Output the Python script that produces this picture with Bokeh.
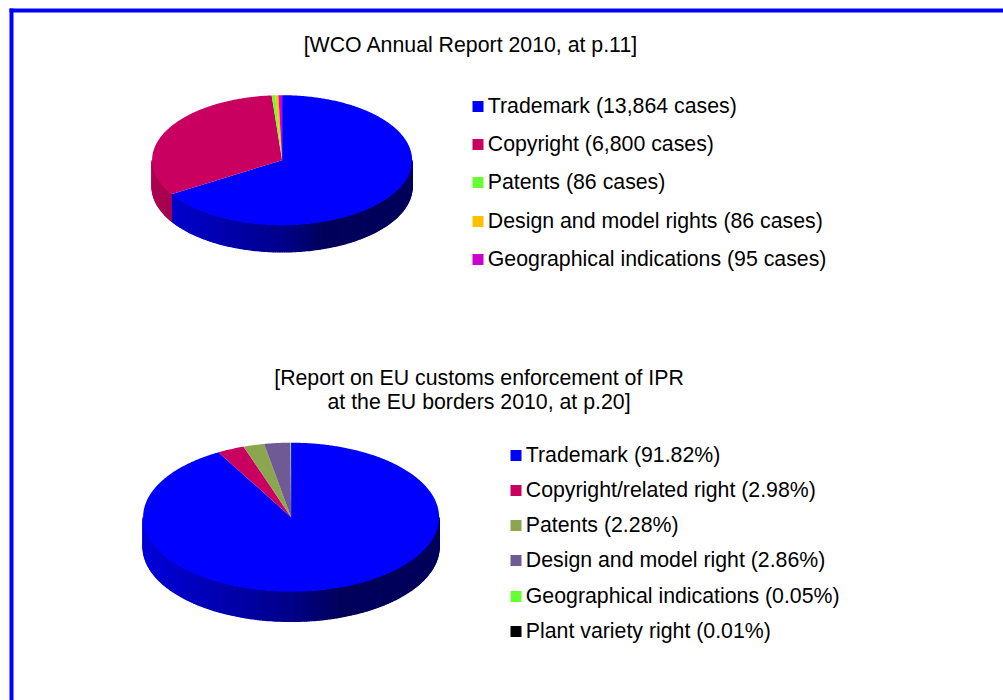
import math
from bokeh.plotting import figure
from bokeh.models import Range1d
from bokeh.core.properties import value
from bokeh.embed import file_html
from bokeh.resources import INLINE

title_a = ["[WCO Annual Report 2010, at p.11]"]
labels_a = ["Trademark (13,864 cases)", "Copyright (6,800 cases)", "Patents (86 cases)",
            "Design and model rights (86 cases)", "Geographical indications (95 cases)"]
values_a = [13864, 6800, 86, 86, 95]
colors_a = ["#0000FF", "#C90060", "#66FF33", "#FFC000", "#CC00CC"]

title_b = ["[Report on EU customs enforcement of IPR", "at the EU borders 2010, at p.20]"]
labels_b = ["Trademark (91.82%)", "Copyright/related right (2.98%)", "Patents (2.28%)",
            "Design and model right (2.86%)", "Geographical indications (0.05%)",
            "Plant variety right (0.01%)"]
values_b = [91.82, 2.98, 2.28, 2.86, 0.05, 0.01]
colors_b = ["#0000FF", "#C90060", "#8BA64F", "#6F5A96", "#66FF33", "#000000"]

FONT = "Liberation Sans"
FS = "21.3px"

p = figure(width=1003, height=700, x_range=Range1d(0, 1003), y_range=Range1d(700, 0),
           output_backend="svg", toolbar_location=None, min_border=0, outline_line_color=None)
p.xaxis.visible = False
p.yaxis.visible = False
p.grid.visible = False
p.background_fill_color = "#FFFFFF"
p.border_fill_color = "#FFFFFF"

# frame
p.quad(left=[9, 9], right=[13, 1003], top=[8, 8], bottom=[700, 12],
       fill_color="#0000FF", line_color=None)


def shade(hex_color, t):
    stops = [(0.0, 0.86), (0.5, 0.54), (0.66, 0.36), (1.0, 0.36)]
    f = stops[-1][1]
    for (a, fa), (b, fb) in zip(stops, stops[1:]):
        if t <= b:
            f = fa + (fb - fa) * (t - a) / (b - a)
            break
    r, g, bl = (int(hex_color[i:i + 2], 16) for i in (1, 3, 5))
    return "#%02X%02X%02X" % (int(r * f), int(g * f), int(bl * f))


def pie(cx, cy, rx, ry, depth, vals, cols):
    total = sum(vals)
    xs, ys, fc = [], [], []
    start = 0.0
    # side wall first, cut in small steps for the horizontal shading
    for v, c in zip(vals, cols):
        end = start + 360.0 * v / total
        a = max(start, 90.0)
        b = min(end, 270.0)
        while a < b:
            a2 = min(a + 1.0, b)
            s1, c1 = math.sin(math.radians(a)), math.cos(math.radians(a))
            s2, c2 = math.sin(math.radians(a2)), math.cos(math.radians(a2))
            x1, y1 = cx + rx * s1, cy - ry * c1
            x2, y2 = cx + rx * s2, cy - ry * c2
            xs.append([x1, x2, x2, x1])
            ys.append([y1, y2, y2 + depth, y1 + depth])
            mid = (x1 + x2) / 2
            fc.append(shade(c, (mid - (cx - rx)) / (2 * rx)))
            a = a2
        start = end
    p.patches(xs, ys, fill_color=fc, line_color=fc, line_width=1.3)

    xs, ys, fc = [], [], []
    start = 0.0
    for v, c in zip(vals, cols):
        end = start + 360.0 * v / total
        n = max(2, int(end - start) * 2)
        px, py = [cx], [cy]
        for i in range(n + 1):
            ang = math.radians(start + (end - start) * i / n)
            px.append(cx + rx * math.sin(ang))
            py.append(cy - ry * math.cos(ang))
        xs.append(px)
        ys.append(py)
        fc.append(c)
        start = end
    p.patches(xs, ys, fill_color=fc, line_color=None)


pie(281.6, 159.7, 130, 65, 26.7, values_a, colors_a)
pie(290.6, 516.7, 148, 74.5, 29.7, values_b, colors_b)


def texts(x, y, t, align="left"):
    p.text(x=x, y=y, text=t, text_font=value(FONT), text_font_size=value(FS),
           text_color="#000000", text_align=align, text_baseline="middle")


def legend(sx, tx, ys, labels, cols):
    p.rect(x=[sx] * len(ys), y=ys, width=11, height=11, fill_color=cols, line_color=None)
    texts([tx] * len(ys), [y - 0.8 for y in ys], labels)


texts([470.5], [44.2], title_a, "center")
texts([478.5, 478.5], [377.2, 401.2], title_b, "center")
legend(477.5, 487.3, [106, 144, 182, 221, 259], labels_a, colors_a)
legend(515.5, 525.3, [455, 490, 525, 560, 596, 631], labels_b, colors_b)

open("out.html", "w").write(file_html(p, INLINE))
